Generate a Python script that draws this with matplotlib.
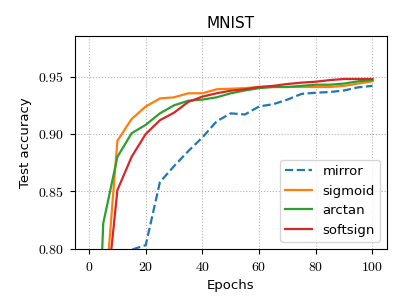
import matplotlib
matplotlib.use('Agg')
import matplotlib.pyplot as plt
from matplotlib.ticker import FuncFormatter

# Epochs and test accuracy per activation
epochs = [0, 5, 10, 15, 20, 25, 30, 35, 40, 45, 50, 55, 60, 65, 70, 75, 80, 85, 90, 95, 100]
mirror = [0.10, 0.40, 0.75, 0.799, 0.803, 0.858, 0.872, 0.885, 0.897, 0.911, 0.918, 0.917, 0.924,
          0.926, 0.930, 0.935, 0.936, 0.9366, 0.938, 0.9407, 0.942]
sigmoid = [0.10, 0.738, 0.894, 0.913, 0.924, 0.931, 0.932, 0.9355, 0.9355, 0.939, 0.9395, 0.940,
           0.941, 0.941, 0.941, 0.941, 0.941, 0.941, 0.942, 0.944, 0.946]
arctan = [0.508, 0.822, 0.880, 0.9006, 0.908, 0.918, 0.925, 0.929, 0.930, 0.932, 0.9355, 0.938,
          0.940, 0.941, 0.941, 0.942, 0.943, 0.943, 0.944, 0.946, 0.947]
softsign = [0.10, 0.73, 0.851, 0.880, 0.900, 0.912, 0.9186, 0.928, 0.9326, 0.9355, 0.9378, 0.939,
            0.941, 0.942, 0.9436, 0.9448, 0.9456, 0.947, 0.948, 0.948, 0.948]

plt.rcParams['mathtext.fontset'] = 'cm'
plt.rcParams['font.family'] = ['DejaVu Sans']

fig = plt.figure(figsize=(4.07, 3.05), dpi=100)
ax = fig.add_axes([0.184, 0.185, 0.766, 0.697])

ax.plot(epochs, mirror, '--', color='#1f77b4', lw=1.6, label='mirror')
ax.plot(epochs, sigmoid, color='#ff7f0e', lw=1.6, label='sigmoid')
ax.plot(epochs, arctan, color='#2ca02c', lw=1.6, label='arctan')
ax.plot(epochs, softsign, color='#d62728', lw=1.6, label='softsign')

ax.set_xlim(-5, 105)
ax.set_ylim(0.80, 0.9855)
ax.set_xticks([0, 20, 40, 60, 80, 100])
ax.set_yticks([0.80, 0.85, 0.90, 0.95])
ax.xaxis.set_major_formatter(FuncFormatter(lambda v, p: f'${v:.0f}$'))
ax.yaxis.set_major_formatter(FuncFormatter(lambda v, p: f'${v:.2f}$'))
ax.tick_params(labelsize=10, length=3.5, pad=4.5)

ax.grid(True, linestyle=':', color='#b0b0b0', linewidth=0.8)
ax.set_xlabel('Epochs', fontsize=9.5)
ax.set_ylabel('Test accuracy', fontsize=9.5)
ax.set_title('MNIST', fontsize=11)
ax.legend(loc='lower right', fontsize=9.5)

fig.savefig('out.png', dpi=100)
